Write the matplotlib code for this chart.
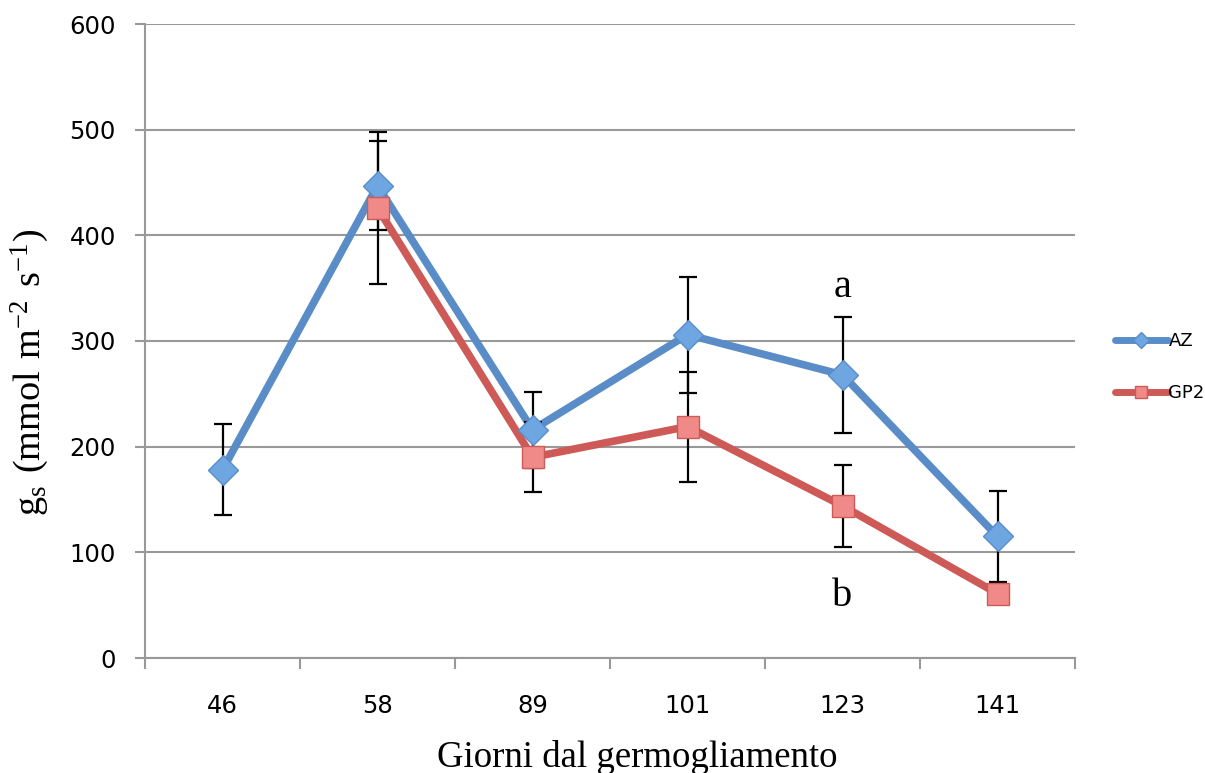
import numpy as np
import matplotlib
matplotlib.use("Agg")
import matplotlib.pyplot as plt

# giorni dal germogliamento
days = ['46', '58', '89', '101', '123', '141']
az = [178, 447, 216, 306, 268, 115]
az_err = [43, 42, 36, 55, 55, 43]
gp2 = [np.nan, 426, 190, 219, 144, 61]
gp2_err = [np.nan, 72, 33, 52, 39, 8]

blue_line = '#5A8DC8'
blue_fill = '#6EA6E2'
red_line = '#CD5A57'
red_fill = '#F08A88'
gray = '#999999'

fig = plt.figure(figsize=(12.05, 7.73), dpi=100)
ax = fig.add_axes([145/1205, 1-658/773, 930/1205, (658-24)/773])

x = np.arange(1, len(days)+1)

ax.plot(x, az, color=blue_line, lw=5.5, solid_capstyle='round', zorder=2)
ax.plot(x, gp2, color=red_line, lw=5.5, solid_capstyle='round', zorder=2)

ax.errorbar(x, az, yerr=az_err, fmt='none', ecolor='black', elinewidth=1.6,
            capsize=6.5, capthick=1.6, zorder=3)
ax.errorbar(x, gp2, yerr=gp2_err, fmt='none', ecolor='black', elinewidth=1.6,
            capsize=6.5, capthick=1.6, zorder=3)

ax.plot(x, az, ls='none', marker='D', ms=15, mfc=blue_fill, mec=blue_line,
        mew=1, zorder=4)
ax.plot(x, gp2, ls='none', marker='s', ms=16, mfc=red_fill, mec=red_line,
        mew=1, zorder=4)

# handles for legend
h1, = ax.plot([], [], color=blue_line, lw=5, marker='D', ms=8,
              mfc=blue_fill, mec=blue_line, solid_capstyle='round')
h2, = ax.plot([], [], color=red_line, lw=5, marker='s', ms=9,
              mfc=red_fill, mec=red_line, solid_capstyle='round')
fig.legend([h1, h2], ['AZ', 'GP2'], loc='center left',
           bbox_to_anchor=(1108/1205, 1-367/773), frameon=False,
           fontsize=13, handlelength=2.9, handletextpad=0.05,
           labelspacing=1.9, borderaxespad=0)

ax.set_xlim(0.5, len(days)+0.5)
ax.set_ylim(0, 600)
ax.set_yticks(range(0, 601, 100))
ax.yaxis.grid(True, color=gray, lw=1.5)
ax.set_axisbelow(True)

ax.set_xticks(x)
ax.set_xticklabels(days)
ax.set_xticks(np.arange(0.5, len(days)+1), minor=True)
ax.tick_params(axis='x', which='major', length=0, pad=26, labelsize=17.5)
ax.tick_params(axis='x', which='minor', length=8, width=1.5, color=gray)
ax.tick_params(axis='y', length=7, width=1.5, color=gray, pad=14,
               labelsize=17.5)

for s in ['top', 'right']:
    ax.spines[s].set_visible(False)
for s in ['left', 'bottom']:
    ax.spines[s].set_color(gray)
    ax.spines[s].set_linewidth(1.5)

serif = 'Liberation Serif'
ax.text(5, 351, 'a', ha='center', va='center', fontsize=29, family=serif)
ax.text(5, 58, 'b', ha='center', va='center', fontsize=29, family=serif)

fig.text(637/1205, 1-767/773, 'Giorni dal germogliamento', ha='center',
         va='baseline', fontsize=26.5, family=serif)
fig.text(30/1205, 1-372/773,
         r'$\mathregular{g_s\ (mmol\ m^{-2}\ s^{-1})}$',
         ha='center', va='center', rotation=90, fontsize=27.5, family=serif)

fig.savefig('out.png', dpi=100)
